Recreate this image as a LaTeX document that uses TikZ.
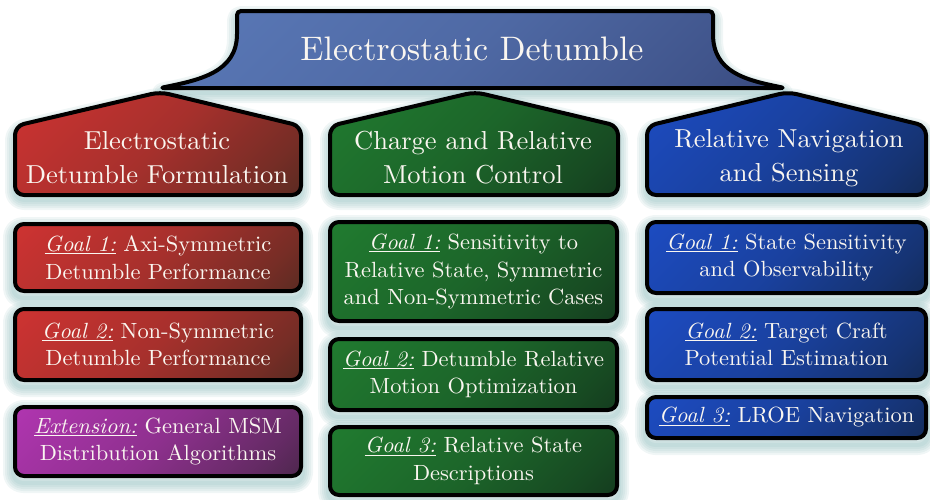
\documentclass[tikz,border=0pt]{standalone}
\usepackage{fontspec}
\setmainfont{lmroman10-regular.otf}[ItalicFont=lmroman10-italic.otf]
\newfontfamily\goalfont{lmroman10-regular.otf}[ItalicFont=lmroman10-italic.otf, FakeStretch=1.02]
\newfontfamily\headfont{lmroman10-regular.otf}[ItalicFont=lmroman10-italic.otf, FakeStretch=1.02]
\usetikzlibrary{backgrounds}
\definecolor{glowc}{RGB}{120,175,175}
\definecolor{txt}{RGB}{250,246,240}
\definecolor{bannerA}{RGB}{95,128,192}
\definecolor{bannerB}{RGB}{44,56,105}
\definecolor{redA}{RGB}{222,52,52}
\definecolor{redB}{RGB}{48,40,28}
\definecolor{greenA}{RGB}{34,132,50}
\definecolor{greenB}{RGB}{16,36,24}
\definecolor{blueA}{RGB}{30,80,208}
\definecolor{blueB}{RGB}{16,32,52}
\definecolor{purpA}{RGB}{190,55,190}
\definecolor{purpB}{RGB}{40,34,40}
\newcommand{\mkshade}[3]{%
  \pgfdeclareverticalshading{#1}{100bp}{color(0bp)=(#3); color(10bp)=(#2!18!#3); color(25bp)=(#2!40!#3); color(50bp)=(#2!68!#3); color(100bp)=(#2)}}
\mkshade{bannersh}{bannerA}{bannerB}
\mkshade{redsh}{redA}{redB}
\mkshade{greensh}{greenA}{greenB}
\mkshade{bluesh}{blueA}{blueB}
\mkshade{purpsh}{purpA}{purpB}
\newcommand{\gl}[1]{\underline{\textit{#1}}}
\begin{document}
\begin{tikzpicture}[x=1pt,y=-1pt,
  outline/.style={draw=black, line width=4pt, line join=round, rounded corners=9pt},
  grad/.style={shading=#1, shading angle=45},
  glowline/.style={draw=glowc, draw opacity=0.11, line join=round, transform canvas={yshift=-5pt}},
  headtext/.style={text=txt, align=center, inner sep=0pt, font=\headfont\fontsize{26}{34}\selectfont},
  goal/.style={outline, text=txt, align=center, inner sep=0pt, font=\goalfont\fontsize{22}{27.5}\selectfont},
  redcol/.style={minimum width=286pt, grad=redsh},
  purpcol/.style={minimum width=286pt, grad=purpsh},
  greencol/.style={minimum width=287pt, grad=greensh},
  bluecol/.style={minimum width=279pt, grad=bluesh}
]
\useasboundingbox (0,0) rectangle (930,499);
\def\bannerpath{(237,30) -- (237,11) -- (713,11) -- (713,30) .. controls (713,72) and (745,80) .. (785,88) -- (160,88) .. controls (200,80) and (237,72) .. (237,30) -- cycle}
\def\redpath{(160,92) -- (15,126) -- (15,195) -- (301,195) -- (301,126) -- cycle}
\def\greenpath{(475,92) -- (330,126) -- (330,195) -- (618,195) -- (618,126) -- cycle}
\def\bluepath{(788,92) -- (647,126) -- (647,195) -- (926,195) -- (926,126) -- cycle}

% banner and headers
\path[outline, grad=bannersh, rounded corners=4pt] \bannerpath;
\draw[outline, grad=redsh] \redpath;
\draw[outline, grad=greensh] \greenpath;
\draw[outline, grad=bluesh] \bluepath;

\node[text=txt, inner sep=0pt, font=\fontsize{34}{40}\selectfont, anchor=base] (title) at (472,60) {Electrostatic Detumble};
\node[headtext] (hr) at (157,158) {Electrostatic\\Detumble Formulation};
\node[headtext] (hg) at (473,158) {Charge and Relative\\Motion Control};
\node[headtext] (hb) at (789,158) {Relative Navigation\\and Sensing};

% goal boxes
\node[goal, redcol, minimum height=67pt] (r1) at (158,257.5) {\gl{Goal 1:} Axi-Symmetric\\Detumble Performance};
\node[goal, redcol, minimum height=71pt] (r2) at (158,344.5) {\gl{Goal 2:} Non-Symmetric\\Detumble Performance};
\node[goal, purpcol, minimum height=69pt] (r3) at (158,441.5) {\gl{Extension:} General MSM\\Distribution Algorithms};
\node[goal, greencol, minimum height=99pt] (g1) at (473.5,271.5) {\gl{Goal 1:} Sensitivity to\\Relative State, Symmetric\\and Non-Symmetric Cases};
\node[goal, greencol, minimum height=71pt] (g2) at (473.5,374.5) {\gl{Goal 2:} Detumble Relative\\Motion Optimization};
\node[goal, greencol, minimum height=68pt] (g3) at (473.5,461) {\gl{Goal 3:} Relative State\\Descriptions};
\node[goal, bluecol, minimum height=71pt] (b1) at (786.5,257.5) {\gl{Goal 1:} State Sensitivity\\and Observability};
\node[goal, bluecol, minimum height=71pt] (b2) at (786.5,344.5) {\gl{Goal 2:} Target Craft\\Potential Estimation};
\node[goal, bluecol, minimum height=41pt] (b3) at (786.5,417.5) {\gl{Goal 3:} LROE Navigation};

% soft drop glow behind everything
\begin{scope}[on background layer]
  \foreach \w in {4,8,12,16,20} {
    \draw[glowline, line width=\w pt, rounded corners=4pt] \bannerpath;
    \draw[glowline, line width=\w pt, rounded corners=9pt] \redpath;
    \draw[glowline, line width=\w pt, rounded corners=9pt] \greenpath;
    \draw[glowline, line width=\w pt, rounded corners=9pt] \bluepath;
    \foreach \n in {r1,r2,r3,g1,g2,g3,b1,b2,b3}
      \draw[glowline, line width=\w pt, rounded corners=10pt] (\n.north west) rectangle (\n.south east);
  }
\end{scope}
\end{tikzpicture}
\end{document}
